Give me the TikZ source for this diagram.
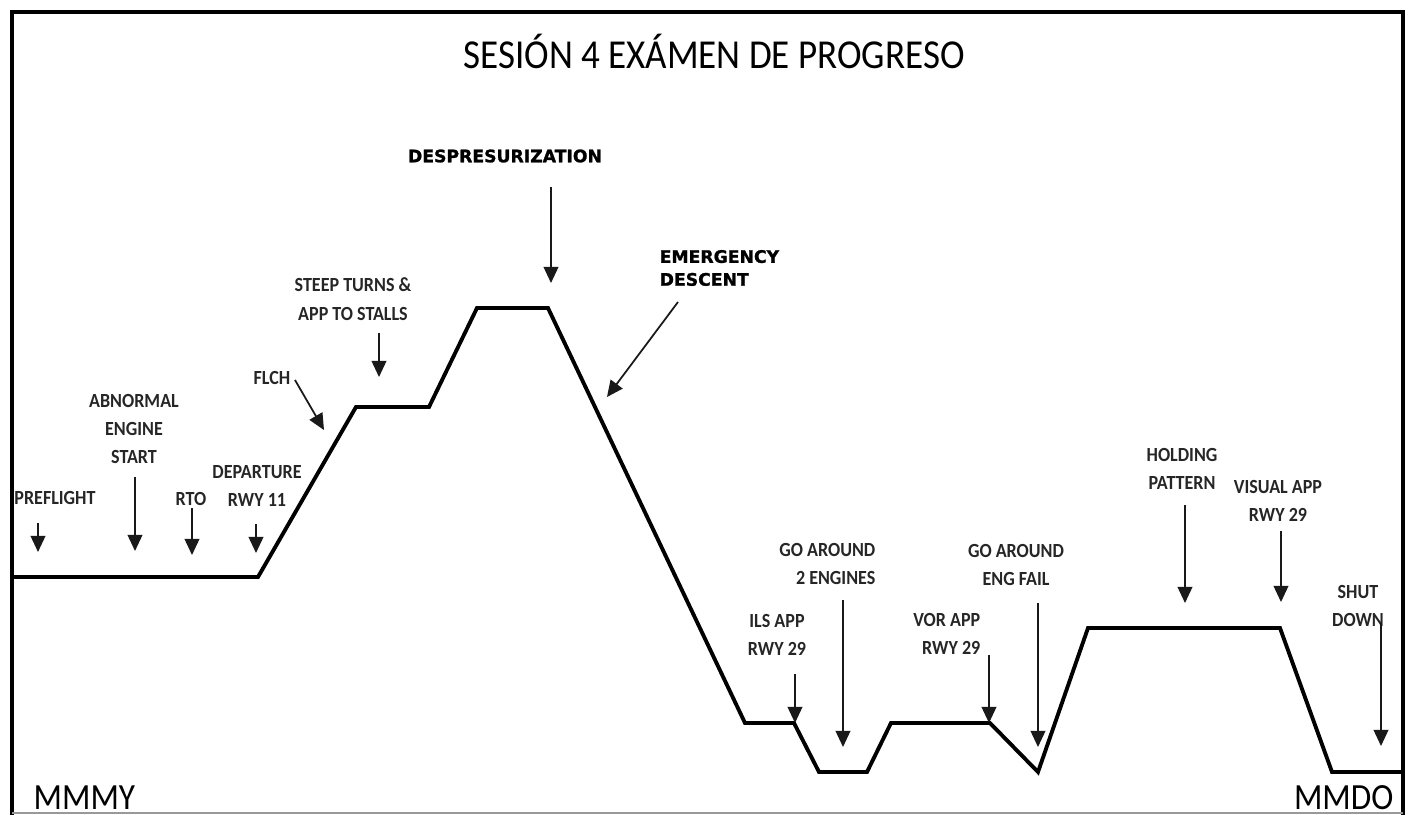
\documentclass[tikz,border=0pt]{standalone}
\usepackage{fontspec}
\setmainfont{Carlito}
\newfontfamily\titlefont[FakeStretch=0.9]{Carlito}
\newfontfamily\lblfont[FakeStretch=0.9]{Carlito}
\newfontfamily\alertfont[FakeBold=1.2]{DejaVu Sans}
\usetikzlibrary{arrows.meta}

\begin{document}
\begin{tikzpicture}[x=0.01cm, y=-0.01cm,
    profile/.style={line width=1.1pt, line join=miter},
    pointer/.style={-{Triangle[width=4.2pt,length=4.6pt]}, line width=0.5pt, black!90},
    lbl/.style={font=\lblfont\bfseries\fontsize{5.7}{8.1}\selectfont, align=center, inner sep=0pt, text=black!85},
    alert/.style={font=\alertfont\bfseries\fontsize{4.9}{6.5}\selectfont, align=left, inner sep=0pt},
    field/.style={font=\titlefont\fontsize{10.5}{12}\selectfont, inner sep=0pt, anchor=base}]
      \useasboundingbox (0,0) rectangle (1411,815);

      % Frame
      \draw[line width=1pt] (12,815) -- (12,12) -- (1403,12) -- (1403,815);
      \draw[black!40, line width=0.4pt] (12,813) -- (1403,813);

      \node[font=\titlefont\fontsize{11.7}{14}\selectfont, inner sep=0pt] (title) at (714,51) {SESIÓN 4 EXÁMEN DE PROGRESO};

      % Flight profile
      \draw[profile] (12,577) -- (258,577) -- (356,407) -- (429,407)
        -- (477,308) -- (548,308) -- (745,723) -- (794,723)
        -- (819,772) -- (867,772) -- (891,723) -- (990,723)
        -- (1038,772) -- (1088,628) -- (1280,628) -- (1332,772)
        -- (1403,772);

      % Airfields
      \node[field, anchor=base west] (mmmy) at (33,809) {MMMY};
      \node[field, anchor=base east] (mmdo) at (1394,809) {MMDO};

      % Labels (climb)
      \node[lbl] (preflight) at (55,498) {PREFLIGHT};
      \node[lbl] (abnormal) at (134,429) {ABNORMAL\\ENGINE\\START};
      \node[lbl] (rto) at (191,499) {RTO};
      \node[lbl] (departure) at (257,486) {DEPARTURE\\RWY 11};
      \node[lbl] (flch) at (272,378) {FLCH};
      \node[lbl] (steep) at (353,299) {STEEP TURNS \&\\APP TO STALLS};
      \node[alert] (depres) at (505,156) {DESPRESURIZATION};
      \node[alert, anchor=west] (emerg) at (659,268) {EMERGENCY\\DESCENT};

      % Labels (approaches)
      \node[lbl] (ils) at (777,635) {ILS APP\\RWY 29};
      \node[lbl, align=right, anchor=east] (goaround) at (876,564) {GO AROUND\\2 ENGINES};
      \node[lbl, align=right, anchor=east] (vor) at (981,634) {VOR APP\\RWY 29};
      \node[lbl] (engfail) at (1016,565) {GO AROUND\\ENG FAIL};
      \node[lbl] (holding) at (1182,469) {HOLDING\\PATTERN};
      \node[lbl] (visual) at (1278,501) {VISUAL APP\\RWY 29};
      \node[lbl] (shut) at (1358,606) {SHUT\\DOWN};

      % Arrow ends
      \coordinate (preflight-a) at (38,523);   \coordinate (preflight-b) at (38,552);
      \coordinate (abnormal-a) at (135,477);   \coordinate (abnormal-b) at (135,551);
      \coordinate (rto-a) at (192,508);        \coordinate (rto-b) at (192,555);
      \coordinate (departure-a) at (256,524);  \coordinate (departure-b) at (256,553);
      \coordinate (flch-a) at (295,380);       \coordinate (flch-b) at (324,430);
      \coordinate (steep-a) at (379,333);      \coordinate (steep-b) at (379,377);
      \coordinate (depres-a) at (551,187);     \coordinate (depres-b) at (551,283);
      \coordinate (emerg-a) at (678,302);      \coordinate (emerg-b) at (607,397);
      \coordinate (ils-a) at (795,674);        \coordinate (ils-b) at (795,723);
      \coordinate (goaround-a) at (843,600);   \coordinate (goaround-b) at (843,747);
      \coordinate (vor-a) at (989,655);        \coordinate (vor-b) at (989,723);
      \coordinate (engfail-a) at (1038,603);   \coordinate (engfail-b) at (1038,747);
      \coordinate (holding-a) at (1185,505);   \coordinate (holding-b) at (1185,603);
      \coordinate (visual-a) at (1281,531);    \coordinate (visual-b) at (1281,602);
      \coordinate (shut-a) at (1381,623);      \coordinate (shut-b) at (1381,746);

      % Arrows
      \draw[pointer] (preflight-a) -- (preflight-b);
      \draw[pointer] (abnormal-a) -- (abnormal-b);
      \draw[pointer] (rto-a) -- (rto-b);
      \draw[pointer] (departure-a) -- (departure-b);
      \draw[pointer] (flch-a) -- (flch-b);
      \draw[pointer] (steep-a) -- (steep-b);
      \draw[pointer] (depres-a) -- (depres-b);
      \draw[pointer] (emerg-a) -- (emerg-b);
      \draw[pointer] (ils-a) -- (ils-b);
      \draw[pointer] (goaround-a) -- (goaround-b);
      \draw[pointer] (vor-a) -- (vor-b);
      \draw[pointer] (engfail-a) -- (engfail-b);
      \draw[pointer] (holding-a) -- (holding-b);
      \draw[pointer] (visual-a) -- (visual-b);
      \draw[pointer] (shut-a) -- (shut-b);
    \end{tikzpicture}
\end{document}
